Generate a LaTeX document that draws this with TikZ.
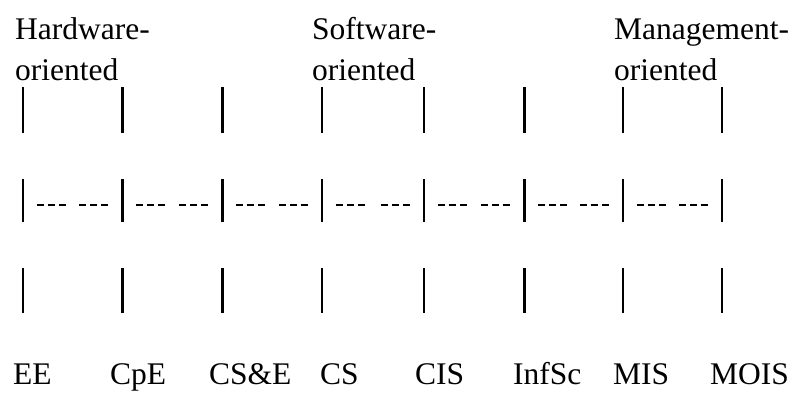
\documentclass[tikz,border=0pt]{standalone}
\usepackage{fontspec}
\setmainfont{Liberation Serif}
\begin{document}
\begin{tikzpicture}[x=1pt,y=-1pt,
  lbl/.style={anchor=base west,inner sep=0pt,font=\fontsize{31.5}{38}\selectfont},
  blbl/.style={lbl,text depth=0pt},
  barline/.style={line width=2.3pt},
  dashgrp/.style={line width=2.3pt,dash pattern=on 7pt off 4pt}]
\useasboundingbox (0,0) rectangle (796,392);
% headings
\node[lbl] (hw1) at (15,39.5) {Hardware-};
\node[lbl] (hw2) at (15,80) {oriented};
\node[lbl] (sw1) at (312,39.5) {Software-};
\node[lbl] (sw2) at (312,80) {oriented};
\node[lbl] (mg1) at (614,39.5) {Management-};
\node[lbl] (mg2) at (614,80) {oriented};
% bottom labels
\node[blbl] (ee) at (13,384.5) {EE};
\node[blbl] (cpe) at (110,384.5) {CpE};
\node[blbl] (cse) at (209,384.5) {CS\&E};
\node[blbl] (cs) at (320,384.5) {CS};
\node[blbl] (cis) at (415,384.5) {CIS};
\node[blbl] (infsc) at (513,384.5) {InfSc};
\node[blbl] (mis) at (613,384.5) {MIS};
\node[blbl] (mois) at (710,384.5) {MOIS};
% bars
\foreach \x in {23,122.5,222.5,322,424,524.5,623,722}{
  \draw[barline] (\x,87) -- (\x,133);
  \draw[barline] (\x,179) -- (\x,222);
  \draw[barline] (\x,268) -- (\x,313);
}
% dashes
\foreach \a/\b in {23/122.5,122.5/222.5,222.5/322,322/424,424/524.5,524.5/623,623/722}{
  \draw[dashgrp] ({\a+13.5},205) -- ++(29,0);
  \draw[dashgrp] ({\b-43.5},205) -- ++(29,0);
}
\end{tikzpicture}
\end{document}
